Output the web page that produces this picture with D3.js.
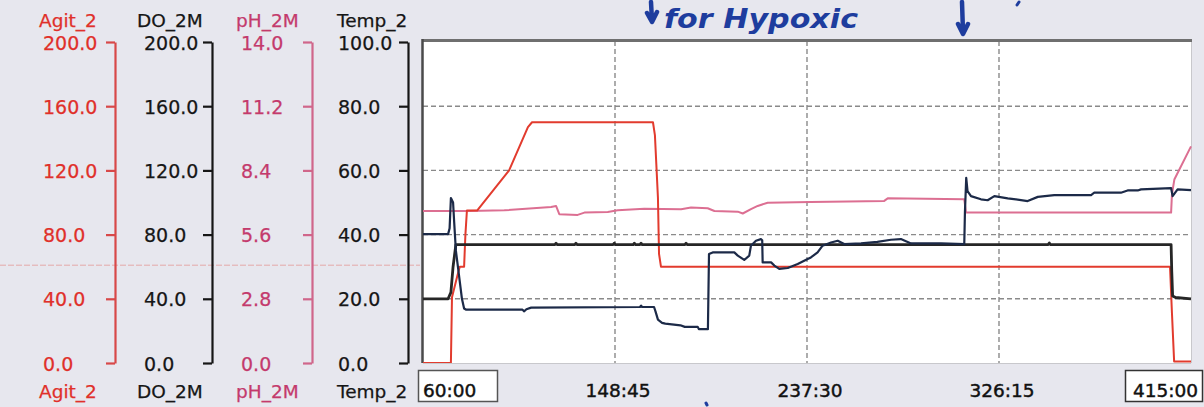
<!DOCTYPE html>
<html><head><meta charset="utf-8">
<script src="https://cdn.jsdelivr.net/npm/d3@7"></script>
<style>
html,body{margin:0;padding:0;background:#e7e7ee;}
svg{display:block;font-family:"DejaVu Sans",sans-serif;}
</style></head><body>
<svg id="c" width="1204" height="407"></svg>
<script>
// ---------- data (time in minutes, values in each channel's own units) ----------
const xTickValues = [60, 148.75, 237.5, 326.25, 415];
const agitTicks = [0, 40, 80, 120, 160, 200];
const doTicks   = [0, 40, 80, 120, 160, 200];
const phTicks   = [0, 2.8, 5.6, 8.4, 11.2, 14];
const tempTicks = [0, 20, 40, 60, 80, 100];
const axisNames = ["Agit_2", "DO_2M", "pH_2M", "Temp_2"];
const annotationText = "for Hypoxic";

const agitTime  = [60, 72.9, 73.4, 76.0, 77.0, 79.0, 79.6, 80.3, 85.0, 99.8, 108.5, 110.4, 166.3, 167.2, 168.6, 169.1, 170.0, 405.3, 406.2, 407.2, 415];
const agitValue = [0, 0, 41, 55, 60, 60, 80, 95, 95, 120, 147, 150, 150, 142, 103, 68, 60, 60, 31, 1, 1];

const doTime  = [60, 71.6, 72.3, 72.9, 73.9, 74.4, 75.2, 76.6, 78.0, 79.0, 80, 106, 106.8, 107.8, 110, 160.3, 160.8, 161.3, 166.8, 167.5, 168.6, 170.5, 172, 179, 181, 187, 187.5, 191.7, 192.2, 193.9, 203.9, 205.5, 208.5, 210.8, 211.6, 213.9, 216.2, 216.8, 217.0, 220.9, 222.4, 224.7, 228.6, 233.2, 237.8, 239.3, 242.4, 244.7, 248.6, 251.7, 254.7, 262.5, 270, 276.3, 280.9, 285.6, 299.4, 310.2, 310.5, 311.1, 311.7, 313.3, 317.9, 321, 324.1, 330.3, 339.5, 344.2, 351.8, 368.8, 370.3, 382.6, 385.7, 390.4, 391.9, 405.8, 406.5, 408.8, 415];
const doValue = [80.3, 80.3, 84, 102.8, 100, 88, 70, 55, 40, 34, 33.2, 33.2, 32.2, 33.5, 34.5, 34.9, 35.8, 34.9, 34.9, 32, 27, 25, 24.5, 23.5, 22.5, 22.5, 21.1, 21.1, 67.9, 68.9, 68.9, 66.9, 64.2, 66.9, 73.1, 76.2, 77.2, 76.5, 62.7, 62.7, 60.7, 58.6, 59.2, 61.7, 64.8, 65.8, 68.9, 73.1, 75.1, 76.2, 74.1, 74.5, 75.5, 76.8, 77.2, 74.5, 74.5, 74.1, 93.7, 115.4, 107.1, 104, 102, 101.4, 104, 102.6, 100.9, 103.5, 104.6, 104.6, 106.1, 106.1, 107.5, 107.5, 108.2, 109.0, 104, 108.2, 107.7];

const phTime  = [60, 72.9, 81.3, 97.6, 119.2, 121.5, 123.0, 131.5, 134.6, 145.4, 150, 162.3, 179.3, 183.9, 191.6, 194.7, 205.5, 207.8, 211.6, 214.7, 219.3, 239.3, 273.2, 274.8, 310.2, 311.0, 405.8, 406.2, 407.3, 415];
const phValue = [6.63, 6.63, 6.63, 6.66, 6.80, 6.85, 6.49, 6.46, 6.56, 6.59, 6.66, 6.73, 6.71, 6.78, 6.75, 6.63, 6.60, 6.52, 6.71, 6.85, 6.99, 7.02, 7.07, 7.18, 7.14, 6.56, 6.56, 7.36, 8.0, 9.45];

const tempTime  = [60, 71.6, 72.9, 73.9, 75.2, 121.0, 121.5, 122.0, 130.2, 130.7, 131.2, 147.9, 148.4, 148.9, 157.2, 157.7, 158.2, 160.3, 160.8, 161.3, 181.1, 181.6, 182.1, 349.0, 349.5, 350.0, 405.8, 406.1, 406.5, 407.9, 415];
const tempValue = [20, 20, 22, 30, 36.9, 36.9, 37.3, 36.9, 36.9, 37.3, 36.9, 36.9, 37.3, 36.9, 36.9, 37.3, 36.9, 36.9, 37.3, 36.9, 36.9, 37.3, 36.9, 36.9, 37.4, 36.9, 36.9, 28.6, 20.9, 20.4, 20];

// ---------- layout ----------
const plotL = 423, plotR = 1191, plotT = 41, plotB = 363;
const svg = d3.select("#c");

const x = d3.scaleLinear().domain([60, 415]).range([plotL, plotR]);
const yAgit = d3.scaleLinear().domain([0, 200]).range([plotB, 42]);
const yDO   = d3.scaleLinear().domain([0, 200]).range([plotB, 42]);
const yPH   = d3.scaleLinear().domain([0, 14]).range([plotB, 42]);
const yTemp = d3.scaleLinear().domain([0, 100]).range([plotB, 42]);

svg.append("rect").attr("width", 1204).attr("height", 407).attr("fill", "#e7e7ee");

// faint cursor line in left panel
svg.append("line").attr("x1", 0).attr("x2", 420)
  .attr("y1", yAgit(60) - 1.5).attr("y2", yAgit(60) - 1.5)
  .attr("stroke", "#e4a9a9").attr("stroke-width", 1).attr("stroke-dasharray", "6,2");

// plot background
svg.append("rect").attr("x", plotL).attr("y", plotT).attr("width", plotR - plotL).attr("height", plotB - plotT)
  .attr("fill", "#ffffff");

// grid
const grid = svg.append("g").attr("stroke", "#8a8a8a").attr("stroke-width", 1.4).attr("stroke-dasharray", "5,3");
xTickValues.slice(1, -1).forEach(v => {
  grid.append("line").attr("x1", x(v)).attr("x2", x(v)).attr("y1", plotT).attr("y2", plotB);
});
tempTicks.slice(1, -1).forEach(v => {
  grid.append("line").attr("x1", plotL).attr("x2", plotR).attr("y1", yTemp(v)).attr("y2", yTemp(v));
});

// borders
svg.append("line").attr("x1", plotL).attr("x2", plotR).attr("y1", plotB + 0.5).attr("y2", plotB + 0.5).attr("stroke", "#c8c8cc").attr("stroke-width", 1);
svg.append("line").attr("x1", plotR + 0.5).attr("x2", plotR + 0.5).attr("y1", plotT).attr("y2", plotB).attr("stroke", "#c8c8cc").attr("stroke-width", 1);
svg.append("line").attr("x1", plotL - 1).attr("x2", plotR + 1).attr("y1", plotT - 0.5).attr("y2", plotT - 0.5).attr("stroke", "#6f6f6f").attr("stroke-width", 3);
svg.append("line").attr("x1", plotL - 0.5).attr("x2", plotL - 0.5).attr("y1", plotT - 2).attr("y2", plotB).attr("stroke", "#4a4a4a").attr("stroke-width", 2.5);

// clip
svg.append("clipPath").attr("id", "clip").append("rect")
  .attr("x", plotL).attr("y", plotT).attr("width", plotR - plotL + 1).attr("height", plotB - plotT);

function drawSeries(times, values, yScale, color, width) {
  const pts = times.map((t, i) => [t, values[i]]);
  const line = d3.line().x(d => x(d[0])).y(d => yScale(d[1]));
  svg.append("path").datum(pts).attr("clip-path", "url(#clip)")
    .attr("d", line).attr("fill", "none").attr("stroke", color)
    .attr("stroke-width", width).attr("stroke-linejoin", "round");
}
drawSeries(phTime, phValue, yPH, "#dc6f92", 2);
drawSeries(agitTime, agitValue, yAgit, "#e23b2e", 2);
drawSeries(tempTime, tempValue, yTemp, "#262626", 2.8);
drawSeries(doTime, doValue, yDO, "#1c2a48", 2.2);

// left axes
const axesCfg = [
  {name: axisNames[0], scale: yAgit, ticks: agitTicks, ax: 115, lx: 43, tx: 39, color: "#e0302a", line: "#d84848"},
  {name: axisNames[1], scale: yDO,   ticks: doTicks,   ax: 212, lx: 144, tx: 137, color: "#161616", line: "#161616"},
  {name: axisNames[2], scale: yPH,   ticks: phTicks,   ax: 312, lx: 241, tx: 236, color: "#c43a6c", line: "#d0668a"},
  {name: axisNames[3], scale: yTemp, ticks: tempTicks, ax: 408, lx: 338, tx: 337, color: "#161616", line: "#161616"}
];
axesCfg.forEach(c => {
  const g = svg.append("g").attr("transform", `translate(${c.ax},0)`)
    .call(d3.axisLeft(c.scale).tickValues(c.ticks).tickSize(9).tickSizeOuter(0).tickFormat(d3.format(".1f")));
  g.attr("font-size", 19).attr("font-family", "DejaVu Sans, sans-serif");
  g.select(".domain").attr("stroke", c.line).attr("stroke-width", 2.2);
  g.selectAll(".tick line").attr("stroke", c.line).attr("stroke-width", 2.2);
  g.selectAll(".tick text").attr("x", c.lx - c.ax).attr("text-anchor", "start")
    .attr("dy", "0.37em").attr("fill", c.color).attr("stroke", c.color).attr("stroke-width", 0.25);
  svg.append("text").attr("x", c.tx).attr("y", 27).attr("font-size", 18.5).attr("fill", c.color)
    .attr("stroke", c.color).attr("stroke-width", 0.25).text(c.name);
  svg.append("text").attr("x", c.tx).attr("y", 398).attr("font-size", 18.5).attr("fill", c.color)
    .attr("stroke", c.color).attr("stroke-width", 0.25).text(c.name);
});

// x labels
function fmtTime(v) {
  const m = Math.floor(v), s = Math.round((v - m) * 60);
  return m + ":" + String(s).padStart(2, "0");
}
svg.append("rect").attr("x", 418.5).attr("y", 370.5).attr("width", 79).attr("height", 31)
  .attr("fill", "#fff").attr("stroke", "#555").attr("stroke-width", 1.5);
svg.append("rect").attr("x", 1125.5).attr("y", 370.5).attr("width", 77).attr("height", 31)
  .attr("fill", "#fff").attr("stroke", "#333").attr("stroke-width", 1.5);
xTickValues.forEach((v, i) => {
  const last = i === xTickValues.length - 1;
  const t = svg.append("text").attr("y", 397).attr("font-size", 18.5).attr("fill", "#111")
    .attr("stroke", "#111").attr("stroke-width", 0.45).text(fmtTime(v));
  if (i === 0) t.attr("x", 423).attr("text-anchor", "start");
  else if (last) t.attr("x", 1198).attr("text-anchor", "end");
  else t.attr("x", x(v) + 3).attr("text-anchor", "middle");
});

// handwritten annotation
const blue = "#1e3d9e";
svg.append("text").attr("x", 664).attr("y", 28).attr("font-size", 26).attr("font-weight", "bold")
  .attr("font-style", "italic").attr("fill", blue).attr("textLength", 194).attr("lengthAdjust", "spacingAndGlyphs")
  .text(annotationText);
const arrows = svg.append("g").attr("stroke", blue).attr("stroke-width", 4.5).attr("fill", "none")
  .attr("stroke-linecap", "round").attr("stroke-linejoin", "round");
arrows.append("path").attr("d", "M651,2 L652,21 M647,13 L652,22 L657,12");
arrows.append("path").attr("d", "M962,2 L963,32 M958,24 L963,34 L968,24");
arrows.append("path").attr("d", "M1019,2 L1017,5").attr("stroke-width", 3);
arrows.append("path").attr("d", "M706,403 L707,405").attr("stroke-width", 3);
</script>
</body></html>
